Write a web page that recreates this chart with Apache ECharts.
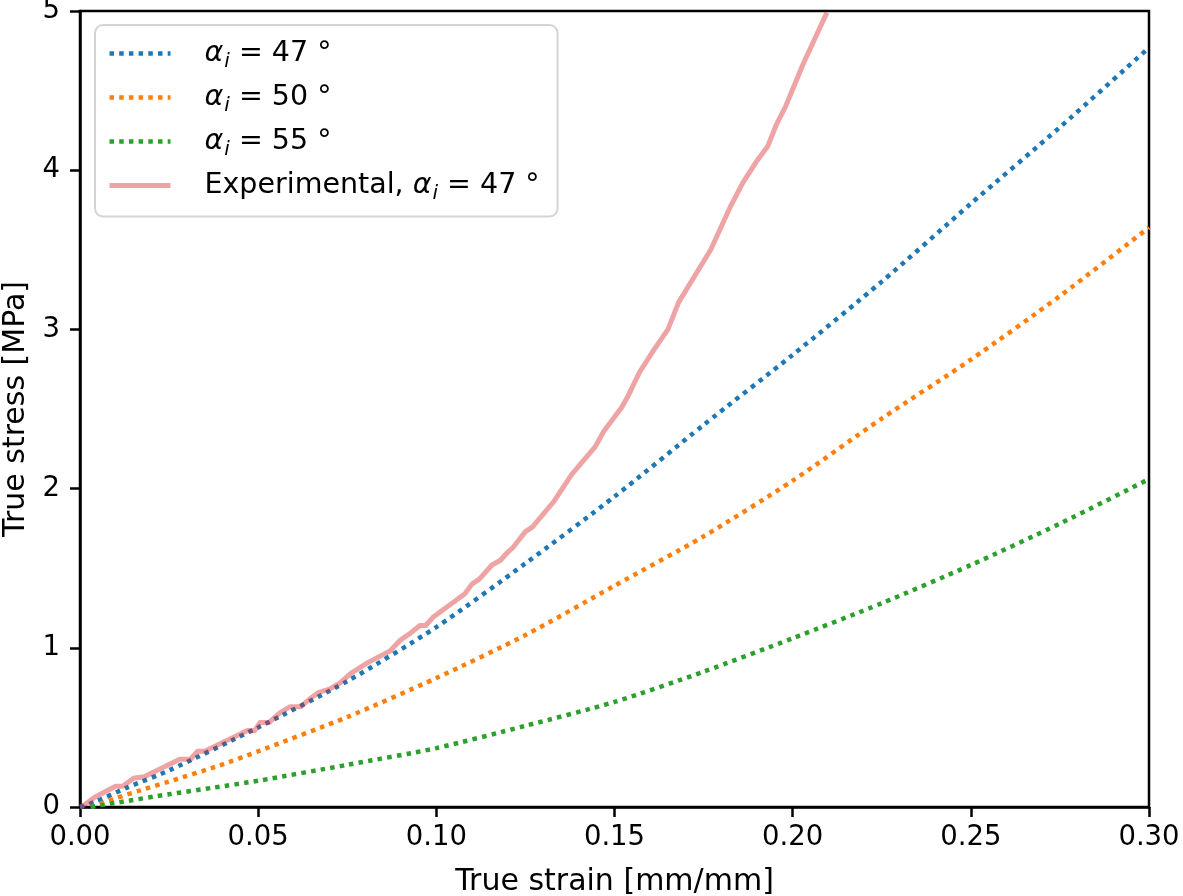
<!DOCTYPE html>
<html>
<head>
<meta charset="utf-8">
<script src="https://cdn.jsdelivr.net/npm/echarts@6/dist/echarts.min.js"></script>
<style>
html,body{margin:0;padding:0;background:#fff;}
#chart{width:1183px;height:896px;}
</style>
</head>
<body>
<div id="chart"></div>
<script>
// ---- data (strain, stress) ----
const seriesNames = ['a47', 'a50', 'a55', 'exp47'];
const xTicks = ['0.00', '0.05', '0.10', '0.15', '0.20', '0.25', '0.30'];
const yTicks = ['0', '1', '2', '3', '4', '5'];

const model47 = [[0,0],[0.004,0.03],[0.013,0.12],[0.025,0.23],[0.05,0.50],[0.075,0.79],[0.10,1.13],[0.125,1.53],[0.15,1.95],[0.175,2.40],[0.20,2.84],[0.225,3.30],[0.25,3.79],[0.275,4.27],[0.30,4.77]];
const model50 = [[0.003,0],[0.01,0.055],[0.017,0.105],[0.025,0.16],[0.039,0.26],[0.05,0.35],[0.075,0.565],[0.10,0.81],[0.125,1.08],[0.15,1.39],[0.175,1.70],[0.20,2.05],[0.225,2.44],[0.25,2.81],[0.275,3.21],[0.30,3.64]];
const model55 = [[0.003,0],[0.011,0.03],[0.025,0.08],[0.037,0.12],[0.05,0.165],[0.075,0.265],[0.10,0.37],[0.125,0.51],[0.15,0.66],[0.175,0.85],[0.20,1.06],[0.225,1.28],[0.25,1.52],[0.275,1.78],[0.30,2.06]];
const experimental47 = [[0,0],[0.001,0.01],[0.004,0.06],[0.010,0.13],[0.012,0.13],[0.015,0.18],[0.018,0.19],[0.028,0.30],[0.031,0.30],[0.033,0.35],[0.035,0.35],[0.047,0.48],[0.049,0.48],[0.0505,0.53],[0.053,0.53],[0.056,0.59],[0.059,0.63],[0.062,0.63],[0.0645,0.68],[0.067,0.72],[0.070,0.74],[0.073,0.78],[0.076,0.84],[0.081,0.91],[0.087,0.98],[0.090,1.05],[0.0926,1.09],[0.0954,1.14],[0.097,1.14],[0.099,1.19],[0.102,1.24],[0.105,1.29],[0.108,1.34],[0.110,1.40],[0.112,1.43],[0.1156,1.52],[0.118,1.55],[0.120,1.60],[0.1215,1.63],[0.125,1.73],[0.127,1.76],[0.133,1.92],[0.138,2.09],[0.1445,2.26],[0.147,2.36],[0.152,2.51],[0.154,2.59],[0.157,2.73],[0.161,2.87],[0.165,3.00],[0.168,3.17],[0.174,3.39],[0.177,3.50],[0.1825,3.77],[0.186,3.92],[0.190,4.06],[0.193,4.15],[0.1955,4.29],[0.198,4.40],[0.203,4.67],[0.2096,4.99]];

const legendLabels = {
  a47: '{a|α}{s|i}{n| = 47 °}',
  a50: '{a|α}{s|i}{n| = 50 °}',
  a55: '{a|α}{s|i}{n| = 55 °}',
  exp47: '{n|Experimental, }{a|α}{s|i}{n| = 47 °}'
};

const FONT = 'DejaVu Sans';
const chart = echarts.init(document.getElementById('chart'), null, {renderer: 'canvas'});

const DOT = [4.5, 5.2];
function dotted(color) {
  return {color: color, width: 4.5, type: DOT, cap: 'butt'};
}
const colors = {a47: '#1f77b4', a50: '#ff7f0e', a55: '#2ca02c'};

const option = {
  animation: false,
  backgroundColor: '#fff',
  grid: {
    left: 80, right: 34, top: 11, bottom: 89,
    outerBoundsMode: 'none',
    containLabel: false,
    show: true, borderColor: '#000', borderWidth: 2.5, backgroundColor: 'transparent'
  },
  legend: {
    orient: 'vertical',
    left: 95, top: 25,
    padding: [14, 18, 13, 12],
    itemGap: 11.5,
    itemWidth: 61,
    itemHeight: 14,
    backgroundColor: 'rgba(255,255,255,0.85)',
    borderColor: '#d4d4d4',
    borderWidth: 2,
    borderRadius: 8,
    align: 'left',
    itemStyle: {opacity: 0, borderWidth: 0},
    data: [
      {name: 'a47', lineStyle: {width: 4.5, type: DOT, color: colors.a47, opacity: 1}, itemStyle: {opacity: 0}},
      {name: 'a50', lineStyle: {width: 4.5, type: DOT, color: colors.a50, opacity: 1}, itemStyle: {opacity: 0}},
      {name: 'a55', lineStyle: {width: 4.5, type: DOT, color: colors.a55, opacity: 1}, itemStyle: {opacity: 0}},
      {name: 'exp47', lineStyle: {width: 5, type: 'solid', color: '#d62728', opacity: 0.42}, itemStyle: {opacity: 0}}
    ],
    formatter: function (name) { return legendLabels[name]; },
    textStyle: {
      fontFamily: FONT, fontSize: 28.5, color: '#000',
      rich: {
        a: {fontFamily: FONT, fontSize: 28.5, fontStyle: 'italic', color: '#000'},
        s: {fontFamily: FONT, fontSize: 20, fontStyle: 'italic', color: '#000', padding: [16,0,0,1]},
        n: {fontFamily: FONT, fontSize: 28.5, color: '#000'}
      },
      padding: [0, 0, 0, 29]
    }
  },
  xAxis: {
    type: 'value',
    min: 0, max: 0.30, interval: 0.05,
    name: 'True strain [mm/mm]',
    nameLocation: 'middle',
    nameGap: 60,
    nameTextStyle: {fontFamily: FONT, fontSize: 30, color: '#000'},
    axisLine: {show: true, onZero: false, lineStyle: {color: '#000', width: 2.5}},
    axisTick: {show: true, inside: false, length: 10, lineStyle: {color: '#000', width: 2.5}},
    axisLabel: {
      fontFamily: FONT, fontSize: 27.5, color: '#000', margin: 17,
      formatter: function (v) { return xTicks[Math.round(v / 0.05)]; }
    },
    splitLine: {show: false}
  },
  yAxis: {
    type: 'value',
    min: 0, max: 5, interval: 1,
    name: 'True stress [MPa]',
    nameLocation: 'middle',
    nameGap: 47,
    nameTextStyle: {fontFamily: FONT, fontSize: 30, color: '#000'},
    axisLine: {show: true, onZero: false, lineStyle: {color: '#000', width: 2.5}},
    axisTick: {show: true, inside: false, length: 10, lineStyle: {color: '#000', width: 2.5}},
    axisLabel: {
      fontFamily: FONT, fontSize: 27.5, color: '#000', margin: 20,
      formatter: function (v) { return yTicks[Math.round(v)]; }
    },
    splitLine: {show: false}
  },
  series: [
    {name: 'a47', type: 'line', data: model47, symbol: 'none', smooth: 0.25, lineStyle: dotted(colors.a47), itemStyle: {color: colors.a47}, z: 2},
    {name: 'a50', type: 'line', data: model50, symbol: 'none', smooth: 0.25, lineStyle: dotted(colors.a50), itemStyle: {color: colors.a50}, z: 2},
    {name: 'a55', type: 'line', data: model55, symbol: 'none', smooth: 0.25, lineStyle: dotted(colors.a55), itemStyle: {color: colors.a55}, z: 2},
    {name: 'exp47', type: 'line', data: experimental47, symbol: 'none', smooth: false,
     lineStyle: {color: '#d62728', opacity: 0.42, width: 5, join: 'round', cap: 'butt'},
     itemStyle: {color: '#eca6a6'}, z: 3}
  ]
};
chart.setOption(option);
</script>
</body>
</html>
